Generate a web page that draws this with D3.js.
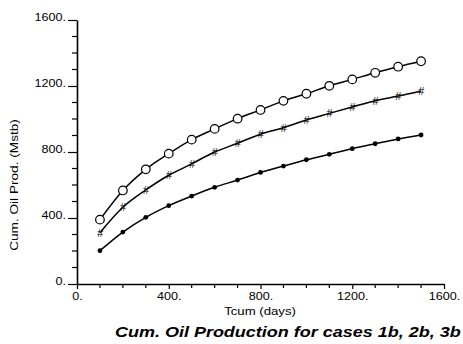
<!DOCTYPE html>
<html>
<head>
<meta charset="utf-8">
<script src="https://cdn.jsdelivr.net/npm/d3@7"></script>
<style>
  html, body { margin: 0; padding: 0; background: #fff; }
  svg text { font-family: "Liberation Sans", Arial, sans-serif; fill: #000; }
</style>
</head>
<body>
<svg id="chart" width="463" height="344"></svg>
<script>
// Cumulative time (days) for each report step
const tcum = [100, 200, 300, 400, 500, 600, 700, 800, 900, 1000, 1100, 1200, 1300, 1400, 1500];

// Cumulative oil production (Mstb) per case
const case1b = [390, 567, 695, 790, 875, 940, 1002, 1055, 1110, 1153, 1201, 1240, 1280, 1317, 1350];
const case2b = [311, 465, 570, 659, 728, 800, 853, 908, 947, 994, 1034, 1073, 1111, 1139, 1170];
const case3b = [202, 315, 404, 475, 533, 586, 630, 676, 715, 753, 786, 820, 850, 879, 903];

const xTicks = [0, 400, 800, 1200, 1600];
const yTicks = [0, 400, 800, 1200, 1600];
const minorStep = 100;

// plotter-style lettering is slightly wide
const SX = 1.2;

const svg = d3.select("#chart");
const x = d3.scaleLinear().domain([0, 1600]).range([77, 444]);
const y = d3.scaleLinear().domain([0, 1600]).range([284, 20]);

const fmt = d => d + ".";

// minor ticks every 100 on both axes
const minors = d3.range(0, 1601, minorStep).filter(v => v % 400 !== 0);

// x axis
const gx = svg.append("g").attr("transform", `translate(0,${y(0)})`);
gx.call(d3.axisBottom(x).tickValues(xTicks).tickFormat(fmt).tickSize(5).tickSizeOuter(0).tickPadding(4));
gx.append("g").selectAll("line").data(minors).join("line")
  .attr("x1", d => x(d)).attr("x2", d => x(d)).attr("y1", 0).attr("y2", 4)
  .attr("stroke", "#000").attr("stroke-width", 1.2);

// y axis
const gy = svg.append("g").attr("transform", `translate(${x(0)},0)`);
gy.call(d3.axisLeft(y).tickValues(yTicks).tickFormat(fmt).tickSize(9).tickSizeOuter(0).tickPadding(2));
gy.append("g").selectAll("line").data(minors).join("line")
  .attr("y1", d => y(d)).attr("y2", d => y(d)).attr("x1", 0).attr("x2", -5)
  .attr("stroke", "#000").attr("stroke-width", 1.2);

[gx, gy].forEach(g => {
  g.select(".domain").attr("stroke", "#000").attr("stroke-width", 1.6);
  g.selectAll(".tick line").attr("stroke", "#000").attr("stroke-width", 1.2);
  g.selectAll(".tick text").attr("font-size", 10.5).attr("fill", "#000")
    .style("font-family", "Liberation Sans, Arial, sans-serif")
    .attr("transform", `scale(${SX},1)`);
});
// y labels sit on the tick line
gy.selectAll(".tick text").attr("dy", "0").attr("y", 0).attr("x", -11 / SX);

// axis titles
svg.append("text").attr("transform", `translate(260,315) scale(${SX},1)`).attr("text-anchor", "middle")
  .attr("font-size", 11).text("Tcum  (days)");
svg.append("text").attr("transform", `translate(18,185) rotate(-90) scale(${SX + 0.1},1)`).attr("text-anchor", "middle")
  .attr("font-size", 10.5).text("Cum. Oil Prod. (Mstb)");
svg.append("text").attr("transform", `translate(115,337) scale(${SX},1)`).attr("font-size", 15)
  .attr("font-weight", "bold").attr("font-style", "italic")
  .text("Cum. Oil Production for cases 1b, 2b, 3b");

// curves
const line = d3.line().x((d, i) => x(tcum[i])).y(d => y(d)).curve(d3.curveMonotoneX);
const series = [
  { key: "1b", values: case1b, marker: "circle" },
  { key: "2b", values: case2b, marker: "hash" },
  { key: "3b", values: case3b, marker: "dot" }
];

series.forEach(s => {
  svg.append("path").datum(s.values).attr("d", line)
    .attr("fill", "none").attr("stroke", "#000").attr("stroke-width", 1.5);
  const g = svg.append("g");
  if (s.marker === "circle") {
    g.selectAll("circle").data(s.values).join("circle")
      .attr("cx", (d, i) => x(tcum[i])).attr("cy", d => y(d)).attr("r", 4.3)
      .attr("fill", "#fff").attr("stroke", "#000").attr("stroke-width", 1.2);
  } else if (s.marker === "hash") {
    g.selectAll("text").data(s.values).join("text")
      .attr("x", (d, i) => x(tcum[i])).attr("y", d => y(d))
      .attr("dy", "0.36em").attr("text-anchor", "middle")
      .attr("font-size", 11).attr("font-style", "italic").text("#");
  } else {
    g.selectAll("circle").data(s.values).join("circle")
      .attr("cx", (d, i) => x(tcum[i])).attr("cy", d => y(d)).attr("r", 2.4)
      .attr("fill", "#000");
  }
});
</script>
</body>
</html>
